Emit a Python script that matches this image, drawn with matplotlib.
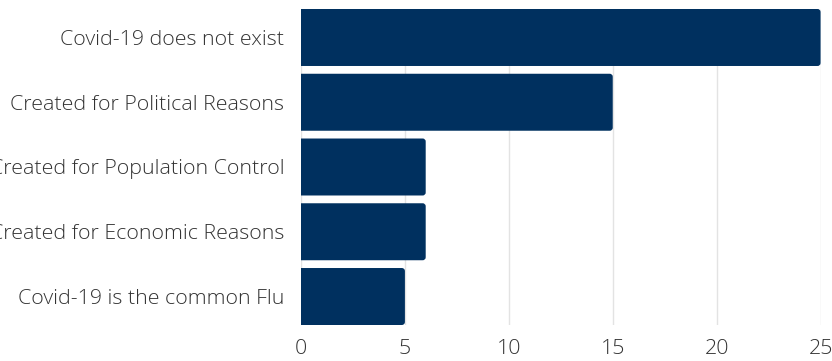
import matplotlib
matplotlib.use("Agg")
import matplotlib.pyplot as plt
from matplotlib.patches import FancyBboxPatch

categories = ["Covid-19 does not exist", "Created for Political Reasons",
              "Created for Population Control", "Created for Economic Reasons",
              "Covid-19 is the common Flu"]
values = [25, 15, 6, 6, 5]
xticks = [0, 5, 10, 15, 20, 25]

plt.rcParams['font.family'] = ['Open Sans', 'DejaVu Sans']

fig = plt.figure(figsize=(8.32, 3.61), dpi=100)
ax = fig.add_axes([301/832, 1-325/361, 520/832, 316/361])

color = '#00305f'
bh = 0.88
bars = ax.barh(range(len(categories)), values, height=bh, color=color)
# replace with rounded right-end bars
for b in bars:
    x0, y0, w, h = b.get_x(), b.get_y(), b.get_width(), b.get_height()
    b.set_visible(False)
    p = FancyBboxPatch((x0 - 0.5, y0), w + 0.5, h,
                       boxstyle="round,pad=0,rounding_size=0.15",
                       mutation_aspect=0.31, facecolor=color, edgecolor='none',
                       zorder=3, clip_on=True)
    ax.add_patch(p)

ax.set_xlim(0, 25.02)
ax.set_ylim(4.44, -0.44)
ax.set_yticks(range(len(categories)))
ax.set_yticklabels(categories)
ax.set_xticks(xticks)
ax.set_xticklabels([str(t) for t in xticks])
ax.grid(axis='x', color='#e3e3e3', linewidth=1, zorder=0)
ax.set_axisbelow(True)
for s in ax.spines.values():
    s.set_visible(False)
ax.tick_params(axis='both', length=0, labelsize=15.4, labelcolor='#333333')
ax.tick_params(axis='y', pad=12)
ax.tick_params(axis='x', pad=10)
for lab in ax.get_xticklabels() + ax.get_yticklabels():
    lab.set_fontweight('light')

fig.savefig("out.png", dpi=100)
